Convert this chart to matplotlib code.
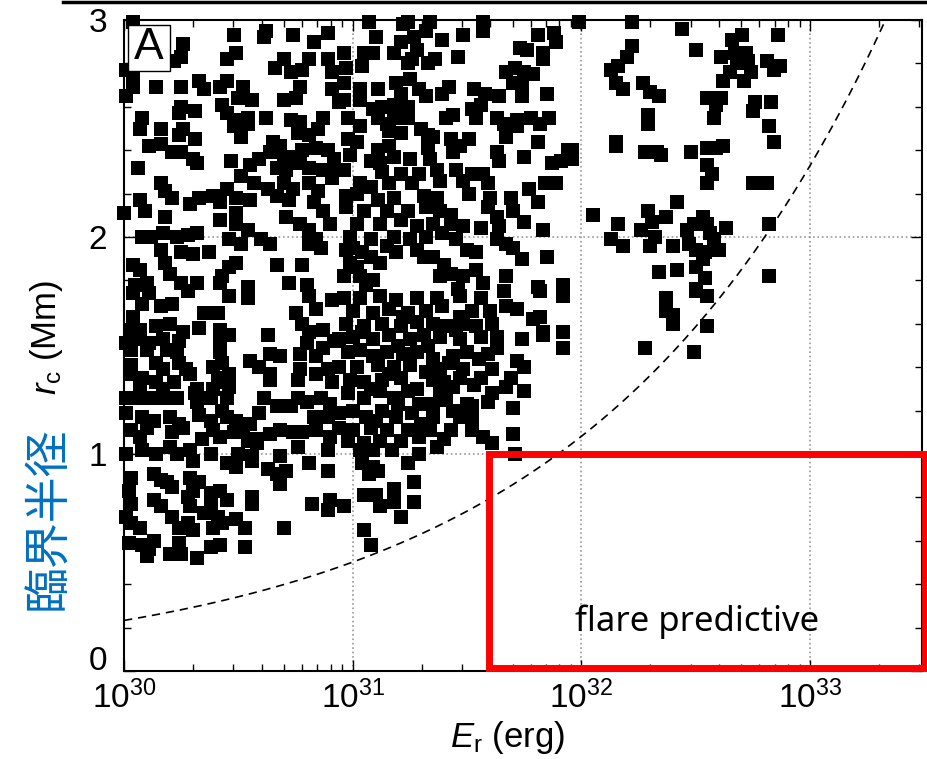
import numpy as np
import matplotlib
matplotlib.use('Agg')
import matplotlib.pyplot as plt
from matplotlib.ticker import LogLocator, MultipleLocator, NullFormatter, FixedFormatter
from matplotlib.patches import Rectangle
from matplotlib.lines import Line2D

plt.rcParams['font.family'] = ['Liberation Sans', 'DejaVu Sans']
plt.rcParams['mathtext.fontset'] = 'custom'
plt.rcParams['mathtext.rm'] = 'Liberation Sans'
plt.rcParams['mathtext.it'] = 'Liberation Sans:italic'

# data: (log10 E_r [erg], r_c [Mm])
pts_low = [
    (30.04, 2.99), (30.01, 2.77), (30.04, 2.74), (30.04, 2.69), (30.01, 2.65),
    (30.48, 2.93), (30.62, 2.95), (30.61, 2.92), (30.74, 2.93), (30.83, 2.90), (30.89, 2.94),
    (30.26, 2.89), (30.25, 2.83), (30.22, 2.81), (30.49, 2.85), (30.45, 2.82),
    (30.70, 2.82), (30.66, 2.78), (30.73, 2.76), (30.81, 2.82), (30.78, 2.77), (30.89, 2.82), (30.91, 2.76),
    (30.14, 2.69), (30.25, 2.69), (30.33, 2.72), (30.35, 2.68),
    (30.42, 2.69), (30.45, 2.72), (30.52, 2.69), (30.50, 2.64), (30.56, 2.63), (30.43, 2.61),
    (30.77, 2.69), (30.70, 2.63), (30.75, 2.64), (30.91, 2.68), (30.94, 2.62),
    (30.08, 2.55), (30.07, 2.50), (30.16, 2.50), (30.25, 2.60), (30.24, 2.57), (30.31, 2.58),
    (30.45, 2.57), (30.49, 2.54), (30.54, 2.55), (30.54, 2.52), (30.48, 2.51), (30.51, 2.46),
    (30.62, 2.55), (30.73, 2.54), (30.77, 2.53), (30.76, 2.48), (30.81, 2.47), (30.87, 2.55), (30.85, 2.50),
    (30.26, 2.50), (30.24, 2.47), (30.31, 2.45),
    (30.11, 2.42), (30.16, 2.43), (30.21, 2.39), (30.25, 2.39), (30.30, 2.36), (30.32, 2.34),
    (30.06, 2.32), (30.47, 2.35),
    (30.65, 2.44), (30.68, 2.42), (30.64, 2.39), (30.70, 2.37), (30.75, 2.37), (30.78, 2.40),
    (30.84, 2.41), (30.89, 2.40), (30.92, 2.36),
    (30.55, 2.33), (30.59, 2.36), (30.67, 2.32), (30.71, 2.31), (30.77, 2.34), (30.81, 2.32),
    (30.87, 2.31), (30.92, 2.32),
    (30.51, 2.28), (30.57, 2.25), (30.63, 2.22), (30.70, 2.25), (30.74, 2.22), (30.81, 2.25),
    (30.85, 2.21), (30.91, 2.27),
    (30.16, 2.25), (30.18, 2.21), (30.21, 2.18), (30.07, 2.17), (30.09, 2.12), (30.00, 2.11),
    (30.29, 2.15), (30.33, 2.18), (30.39, 2.19), (30.42, 2.16), (30.45, 2.22), (30.49, 2.18), (30.55, 2.17),
    (30.49, 2.11), (30.49, 2.06), (30.54, 2.03), (30.42, 2.08), (30.18, 2.09),
    (30.71, 2.09), (30.77, 2.06), (30.81, 2.03), (30.84, 1.99), (30.87, 2.12), (30.90, 2.06),
    (30.83, 2.16), (30.72, 2.17), (30.67, 2.19), (30.81, 1.97), (30.86, 1.95),
    (30.08, 2.00), (30.12, 2.00), (30.17, 2.02), (30.23, 2.00), (30.28, 2.01), (30.32, 2.02),
    (30.46, 1.99), (30.51, 1.97), (30.60, 1.99), (30.64, 1.97),
    (30.16, 1.94), (30.25, 1.93), (30.30, 1.92), (30.37, 1.93),
    (30.04, 1.87), (30.07, 1.85), (30.18, 1.88), (30.20, 1.83),
    (30.46, 1.86), (30.49, 1.88), (30.43, 1.82), (30.67, 1.87), (30.78, 1.87),
    (30.05, 1.78), (30.10, 1.79), (30.25, 1.79), (30.32, 1.79), (30.42, 1.79), (30.54, 1.77),
    (30.72, 1.79), (30.80, 1.78),
    (30.96, 2.85), (30.97, 2.78), (30.96, 2.71), (30.96, 2.63), (30.98, 2.55), (30.98, 2.45),
    (30.99, 2.38), (30.96, 2.31), (30.97, 2.19), (30.97, 2.14), (30.99, 2.00), (30.97, 1.94),
    (30.99, 1.88), (30.96, 1.82),
    (30.04, 1.74), (30.11, 1.74), (30.28, 1.75), (30.46, 1.73), (30.54, 1.72), (30.81, 1.73), (30.91, 1.71),
    (30.08, 1.69), (30.16, 1.68), (30.21, 1.69),
    (30.04, 1.63), (30.35, 1.65), (30.41, 1.65), (30.75, 1.65), (30.84, 1.67),
    (30.03, 1.57), (30.07, 1.57), (30.14, 1.59), (30.20, 1.60), (30.26, 1.56), (30.33, 1.58),
    (30.42, 1.57), (30.46, 1.55), (30.63, 1.55), (30.78, 1.60), (30.81, 1.56), (30.87, 1.57), (30.92, 1.52),
    (30.01, 1.51), (30.06, 1.53), (30.11, 1.51), (30.17, 1.53), (30.24, 1.52), (30.42, 1.53),
    (30.03, 1.48), (30.10, 1.48), (30.19, 1.48), (30.23, 1.47), (30.42, 1.47),
    (30.80, 1.51), (30.87, 1.49), (30.77, 1.46), (30.84, 1.45),
    (30.64, 1.46), (30.68, 1.45), (30.55, 1.43), (30.59, 1.40), (30.64, 1.37), (30.64, 1.34),
    (30.03, 1.41), (30.14, 1.42), (30.17, 1.39), (30.24, 1.42), (30.27, 1.39), (30.29, 1.37),
    (30.39, 1.40), (30.43, 1.42), (30.41, 1.35), (30.46, 1.37),
    (30.77, 1.39), (30.76, 1.34), (30.84, 1.37), (30.89, 1.39), (30.91, 1.33),
    (30.08, 1.35), (30.03, 1.37), (30.07, 1.31), (30.14, 1.33), (30.17, 1.30), (30.22, 1.33),
    (30.43, 1.33), (30.46, 1.31), (30.39, 1.30), (30.32, 1.30),
    (30.01, 1.26), (30.06, 1.26), (30.11, 1.26), (30.17, 1.26), (30.23, 1.26), (30.31, 1.28), (30.32, 1.24),
    (30.38, 1.26), (30.45, 1.26),
    (30.61, 1.26), (30.67, 1.22), (30.73, 1.22), (30.76, 1.26), (30.80, 1.24), (30.86, 1.26), (30.90, 1.23),
    (30.01, 1.19), (30.08, 1.17), (30.13, 1.15), (30.20, 1.17), (30.24, 1.14),
    (30.33, 1.18), (30.38, 1.15), (30.43, 1.20), (30.45, 1.17), (30.49, 1.15), (30.55, 1.14), (30.59, 1.19),
    (30.83, 1.17), (30.89, 1.17),
    (30.03, 1.11), (30.07, 1.08), (30.10, 1.12), (30.21, 1.10), (30.26, 1.12),
    (30.34, 1.07), (30.39, 1.11), (30.42, 1.08), (30.48, 1.10), (30.52, 1.11), (30.54, 1.06), (30.58, 1.07),
    (30.64, 1.09), (30.68, 1.11), (30.74, 1.10), (30.78, 1.10), (30.84, 1.11), (30.90, 1.08),
    (30.01, 1.00), (30.08, 1.02), (30.14, 1.00), (30.20, 1.03), (30.23, 1.00), (30.29, 1.02), (30.30, 0.97),
    (30.38, 1.00), (30.50, 1.00), (30.56, 0.99), (30.58, 1.05), (30.68, 0.99), (30.76, 1.03), (30.89, 1.02),
    (30.03, 0.89), (30.02, 0.83), (30.03, 0.77),
    (30.13, 0.91), (30.16, 0.88), (30.19, 0.87), (30.21, 0.85), (30.29, 0.89), (30.33, 0.87), (30.30, 0.83),
    (30.45, 0.96), (30.49, 0.94), (30.56, 0.97), (30.63, 0.93), (30.67, 0.91), (30.71, 0.92), (30.68, 0.86),
    (30.81, 0.96), (30.89, 0.92),
    (30.13, 0.79), (30.16, 0.76), (30.21, 0.71), (30.28, 0.80), (30.29, 0.76),
    (30.38, 0.82), (30.42, 0.83), (30.45, 0.79), (30.38, 0.76), (30.35, 0.73),
    (30.41, 0.71), (30.43, 0.68), (30.39, 0.66), (30.56, 0.80), (30.56, 0.77),
    (30.49, 0.70), (30.53, 0.66), (30.70, 0.66), (30.82, 0.77), (30.90, 0.79), (30.89, 0.74),
    (30.01, 0.71), (30.03, 0.68), (30.07, 0.66), (30.24, 0.66), (30.28, 0.68), (30.30, 0.65),
    (30.02, 0.59), (30.08, 0.58), (30.13, 0.60), (30.11, 0.56), (30.10, 0.53),
    (30.20, 0.54), (30.25, 0.54), (30.24, 0.59), (30.32, 0.52), (30.38, 0.57), (30.42, 0.58), (30.53, 0.57),
    (30.96, 1.72), (30.97, 1.60), (30.94, 1.53), (30.98, 1.47), (30.94, 1.40), (30.99, 1.34),
    (30.98, 1.28), (30.94, 1.19), (30.94, 1.12), (30.98, 1.06), (30.96, 0.76),
]

pts_mid = [
    (31.07, 2.99), (31.10, 2.92), (31.22, 2.98), (31.24, 2.99), (31.34, 2.99), (31.32, 2.95),
    (31.21, 2.90), (31.27, 2.92), (31.28, 2.86), (31.26, 2.82), (31.24, 2.80),
    (31.39, 2.91), (31.48, 2.93), (31.57, 2.99), (31.57, 2.95),
    (31.05, 2.85), (31.09, 2.85), (31.18, 2.85), (31.04, 2.79),
    (31.36, 2.82), (31.33, 2.80), (31.46, 2.83),
    (31.81, 2.93), (31.88, 2.94), (31.89, 2.90), (31.73, 2.87), (31.76, 2.86), (31.83, 2.85), (31.83, 2.82),
    (31.25, 2.73), (31.67, 2.76), (31.71, 2.78), (31.75, 2.76), (31.79, 2.75), (31.70, 2.71), (31.74, 2.71),
    (31.03, 2.68), (31.11, 2.68), (31.19, 2.71), (31.21, 2.66), (31.29, 2.68), (31.32, 2.65),
    (31.42, 2.69), (31.39, 2.66), (31.53, 2.68), (31.58, 2.66), (31.64, 2.65), (31.74, 2.65), (31.85, 2.66),
    (31.03, 2.63), (31.09, 2.59), (31.13, 2.60), (31.18, 2.61), (31.24, 2.60), (31.56, 2.61), (31.52, 2.59),
    (31.11, 2.55), (31.18, 2.55), (31.24, 2.55), (31.41, 2.55), (31.44, 2.56), (31.54, 2.55),
    (31.63, 2.55), (31.66, 2.52), (31.72, 2.54), (31.72, 2.51), (31.78, 2.55), (31.82, 2.52), (31.86, 2.55),
    (31.03, 2.51), (31.15, 2.52), (31.16, 2.49), (31.21, 2.48), (31.30, 2.50), (31.33, 2.47), (31.35, 2.46),
    (31.02, 2.44), (31.43, 2.45), (31.47, 2.42), (31.51, 2.45), (31.44, 2.39), (31.67, 2.46), (31.81, 2.44),
    (31.11, 2.40), (31.16, 2.42), (31.08, 2.35), (31.12, 2.34), (31.18, 2.37),
    (31.25, 2.36), (31.33, 2.41), (31.34, 2.36), (31.63, 2.39), (31.64, 2.35), (31.75, 2.37),
    (31.87, 2.34), (31.91, 2.35), (31.94, 2.40),
    (31.13, 2.30), (31.21, 2.29), (31.29, 2.29), (31.37, 2.31), (31.45, 2.31), (31.52, 2.29), (31.57, 2.29),
    (31.03, 2.25), (31.08, 2.23), (31.16, 2.25), (31.26, 2.25), (31.38, 2.26), (31.48, 2.26), (31.59, 2.25),
    (31.84, 2.25), (31.89, 2.25),
    (31.02, 2.20), (31.11, 2.17), (31.18, 2.18), (31.31, 2.19), (31.37, 2.18),
    (31.51, 2.20), (31.60, 2.18), (31.69, 2.18), (31.77, 2.22), (31.81, 2.16),
    (31.05, 2.12), (31.15, 2.12), (31.24, 2.12), (31.32, 2.14), (31.38, 2.12), (31.43, 2.10),
    (31.59, 2.14), (31.63, 2.09), (31.70, 2.12),
    (31.02, 2.06), (31.12, 2.06), (31.21, 2.08), (31.28, 2.05), (31.35, 2.06), (31.43, 2.06), (31.48, 2.05),
    (31.56, 2.04), (31.64, 2.05), (31.75, 2.07), (31.83, 2.03),
    (31.08, 1.99), (31.18, 2.00), (31.25, 1.99), (31.32, 2.00), (31.39, 2.02), (31.45, 1.99),
    (31.63, 1.99), (31.67, 1.97),
    (31.00, 1.95), (31.04, 1.93), (31.15, 1.96), (31.28, 1.94), (31.02, 1.86), (31.06, 1.78),
    (31.40, 1.87), (31.46, 1.76),
    (31.08, 1.91), (31.12, 1.88), (31.19, 1.93), (31.31, 1.91), (31.35, 1.91),
    (31.50, 1.94), (31.54, 1.93), (31.70, 1.95), (31.74, 1.90), (31.85, 1.91),
    (31.03, 1.82), (31.09, 1.80), (31.38, 1.82), (31.43, 1.83), (31.48, 1.82), (31.54, 1.85),
    (31.57, 1.79), (31.67, 1.82), (31.81, 1.77), (31.92, 1.78),
    (31.96, 2.40), (31.96, 2.36), (31.99, 2.99),
    (31.03, 1.72), (31.12, 1.73), (31.19, 1.71), (31.28, 1.72), (31.37, 1.72), (31.47, 1.73),
    (31.56, 1.72), (31.66, 1.75), (31.82, 1.75),
    (31.00, 1.66), (31.09, 1.65), (31.16, 1.67), (31.24, 1.65), (31.32, 1.66), (31.39, 1.68),
    (31.47, 1.63), (31.52, 1.66), (31.60, 1.66), (31.67, 1.68), (31.72, 1.67),
    (31.05, 1.59), (31.13, 1.60), (31.21, 1.59), (31.28, 1.61), (31.35, 1.60), (31.41, 1.59),
    (31.48, 1.60), (31.54, 1.59), (31.61, 1.60), (31.79, 1.62), (31.83, 1.56), (31.74, 1.53),
    (31.00, 1.54), (31.09, 1.53), (31.16, 1.55), (31.25, 1.53), (31.31, 1.55), (31.38, 1.54),
    (31.47, 1.53), (31.56, 1.54), (31.63, 1.54),
    (31.03, 1.48), (31.09, 1.45), (31.15, 1.47), (31.22, 1.46), (31.28, 1.47), (31.44, 1.45),
    (31.50, 1.47), (31.59, 1.46), (31.63, 1.49), (31.72, 1.43), (31.75, 1.40),
    (31.02, 1.40), (31.11, 1.41), (31.18, 1.40), (31.25, 1.41), (31.38, 1.39), (31.48, 1.39),
    (31.56, 1.35), (31.61, 1.39), (31.69, 1.35),
    (31.05, 1.33), (31.13, 1.34), (31.21, 1.35), (31.35, 1.34), (31.38, 1.29), (31.44, 1.31), (31.47, 1.35),
    (31.61, 1.28), (31.67, 1.31), (31.75, 1.29), (31.59, 1.24),
    (31.05, 1.26), (31.12, 1.29), (31.18, 1.26), (31.24, 1.29), (31.29, 1.23), (31.35, 1.23),
    (31.41, 1.25), (31.50, 1.23), (31.52, 1.22), (31.70, 1.21),
    (31.00, 1.20), (31.06, 1.17), (31.13, 1.20), (31.19, 1.17), (31.26, 1.19), (31.35, 1.17), (31.47, 1.17),
    (31.00, 1.11), (31.08, 1.12), (31.15, 1.11), (31.24, 1.11), (31.34, 1.11), (31.43, 1.11),
    (31.52, 1.11), (31.57, 1.08), (31.70, 1.09),
    (31.05, 1.05), (31.12, 1.06), (31.21, 1.06), (31.29, 1.08), (31.37, 1.03), (31.61, 1.05), (31.71, 1.00),
    (31.03, 1.02), (31.09, 1.02), (31.29, 1.00), (31.24, 0.96),
    (31.04, 0.96), (31.09, 0.94), (31.07, 0.91), (31.11, 0.92), (31.27, 0.87),
    (31.18, 0.84), (31.18, 0.78), (31.27, 0.78), (31.05, 0.81), (31.10, 0.81), (31.12, 0.76),
    (31.21, 0.71), (31.05, 0.65), (31.08, 0.58),
    (31.92, 1.73), (31.82, 1.63), (31.83, 1.55), (31.92, 1.56), (31.92, 1.49),
    (31.04, 1.56), (31.20, 1.50), (31.33, 1.50), (31.42, 1.42), (31.32, 1.38), (31.16, 1.37),
    (31.08, 1.30), (31.28, 1.30), (31.44, 1.20), (31.40, 1.33), (31.53, 1.32), (31.55, 1.44),
    (31.35, 1.44), (31.20, 1.23), (31.10, 1.15), (31.30, 1.14), (31.40, 1.07), (31.17, 1.02),
    (31.52, 1.16), (31.45, 1.57), (31.22, 1.63),
]

pts_high = [
    (32.22, 2.99), (32.44, 2.96), (32.22, 2.88), (32.20, 2.83), (32.16, 2.79), (32.13, 2.77),
    (32.50, 2.86), (32.66, 2.91), (32.70, 2.93), (32.86, 2.93),
    (32.61, 2.83), (32.67, 2.85), (32.72, 2.85), (32.68, 2.80), (32.73, 2.81), (32.74, 2.76),
    (32.65, 2.76), (32.62, 2.72), (32.71, 2.72), (32.81, 2.81), (32.87, 2.79), (32.84, 2.77),
    (32.15, 2.71), (32.18, 2.68), (32.27, 2.71), (32.30, 2.67), (32.34, 2.65),
    (32.55, 2.64), (32.61, 2.64), (32.59, 2.61), (32.76, 2.62), (32.75, 2.58), (32.83, 2.62),
    (32.29, 2.56), (32.29, 2.52), (32.58, 2.55), (32.82, 2.51), (32.15, 2.44), (32.15, 2.42),
    (32.28, 2.39), (32.33, 2.39), (32.35, 2.38), (32.48, 2.39), (32.55, 2.41), (32.59, 2.41),
    (32.62, 2.42), (32.84, 2.44), (32.55, 2.33), (32.57, 2.29), (32.55, 2.25), (32.75, 2.25),
    (32.81, 2.25), (32.42, 2.16), (32.05, 2.10),
    (32.29, 2.12), (32.16, 2.06), (32.31, 2.07), (32.37, 2.09), (32.26, 2.03),
    (32.53, 2.09), (32.49, 2.06), (32.46, 2.03), (32.55, 2.06), (32.56, 2.02), (32.63, 2.04), (32.82, 2.06),
    (32.13, 1.99), (32.18, 1.96), (32.32, 2.00), (32.30, 1.96),
    (32.40, 1.96), (32.47, 1.97), (32.50, 1.94), (32.54, 1.93), (32.58, 1.99), (32.60, 1.94), (32.53, 1.90),
    (32.34, 1.84), (32.42, 1.85), (32.50, 1.86), (32.54, 1.81), (32.50, 1.76), (32.82, 1.82),
    (32.37, 1.72), (32.50, 1.75), (32.55, 1.73), (32.37, 1.66), (32.40, 1.64), (32.40, 1.60),
    (32.55, 1.59), (32.28, 1.49), (32.49, 1.47),
]

x_ticks = [1e30, 1e31, 1e32, 1e33]
y_ticks = [0, 1, 2, 3]
y_ticklabels = ['', '1', '2', '3']   # "0" is drawn separately, lifted a little
x_max = 10**33.489
curve_coef = 0.233          # r_c = coef * (E / 1e30)^(1/3)
box_E = (10**31.598, 10**33.502)
box_r = (0.016, 0.998)

pts = np.array(pts_low + pts_mid + pts_high)
E = 10**pts[:, 0]
rc = pts[:, 1]

fig = plt.figure(figsize=(9.28, 7.59), dpi=100)
ax = fig.add_axes([124/928, 1-671/759, 798/928, 651/759])

ax.scatter(E, rc, marker='s', s=88, c='black', linewidths=0, clip_on=False, zorder=3)

Ec = np.logspace(30, np.log10(x_max), 300)
ax.plot(Ec, curve_coef*(Ec/1e30)**(1/3), color='black', lw=1.2, ls=(0, (5, 3.5)), zorder=2)

ax.add_patch(Rectangle((box_E[0], box_r[0]), box_E[1]-box_E[0], box_r[1]-box_r[0],
                       fill=False, ec='red', lw=5, clip_on=False, zorder=5))
ax.text(10**32.505, 0.226, 'flare predictive', ha='center', va='center',
        family='Noto Sans', fontsize=25, zorder=6)

ax.set_xscale('log')
ax.set_xlim(1e30, x_max)
ax.set_ylim(0, 3)
ax.set_xticks(x_ticks)
ax.xaxis.set_minor_locator(LogLocator(base=10, subs=range(2, 10)))
ax.xaxis.set_minor_formatter(NullFormatter())
ax.set_yticks(y_ticks)
ax.yaxis.set_major_formatter(FixedFormatter(y_ticklabels))
ax.yaxis.set_minor_locator(MultipleLocator(0.2))
ax.tick_params(which='both', direction='in', top=True, right=True, labelsize=24, width=1)
ax.tick_params(which='major', length=8)
ax.tick_params(axis='y', which='major', pad=12)
ax.tick_params(axis='x', which='major', pad=7)
ax.tick_params(which='minor', length=5)
ax.grid(which='major', ls=':', color='#999999', lw=1.2)
for s in ax.spines.values():
    s.set_linewidth(1.5)

ax.annotate('0', xy=(0, 0), xycoords='axes fraction', xytext=(-12, 7),
            textcoords='offset points', ha='right', va='center', fontsize=24)

# panel label
ax.add_patch(Rectangle((0.005, 0.9217), 0.0526, 0.0707, transform=ax.transAxes,
                       fc='white', ec='black', lw=1, zorder=6, clip_on=False))
ax.text(0.0313, 0.957, 'A', transform=ax.transAxes, ha='center', va='center',
        fontsize=32, zorder=7)

fig.text(508/928, 1-738/759, r'$E_\mathrm{r}$ (erg)', ha='center', va='center', fontsize=25)
fig.text(47/928, 1-337/759, r'$r_\mathrm{c}$ (Mm)', ha='center', va='center', fontsize=25, rotation=90)
fig.text(48/928, 1-518/759, '臨界半径', ha='center', va='center', fontsize=33, rotation=90,
         color='#0070C0', family=['Noto Sans CJK JP', 'DejaVu Sans'])

fig.add_artist(Line2D([63/928, 1], [1-2/759, 1-2/759], color='black', lw=2.5))

fig.savefig('out.png', dpi=100)
